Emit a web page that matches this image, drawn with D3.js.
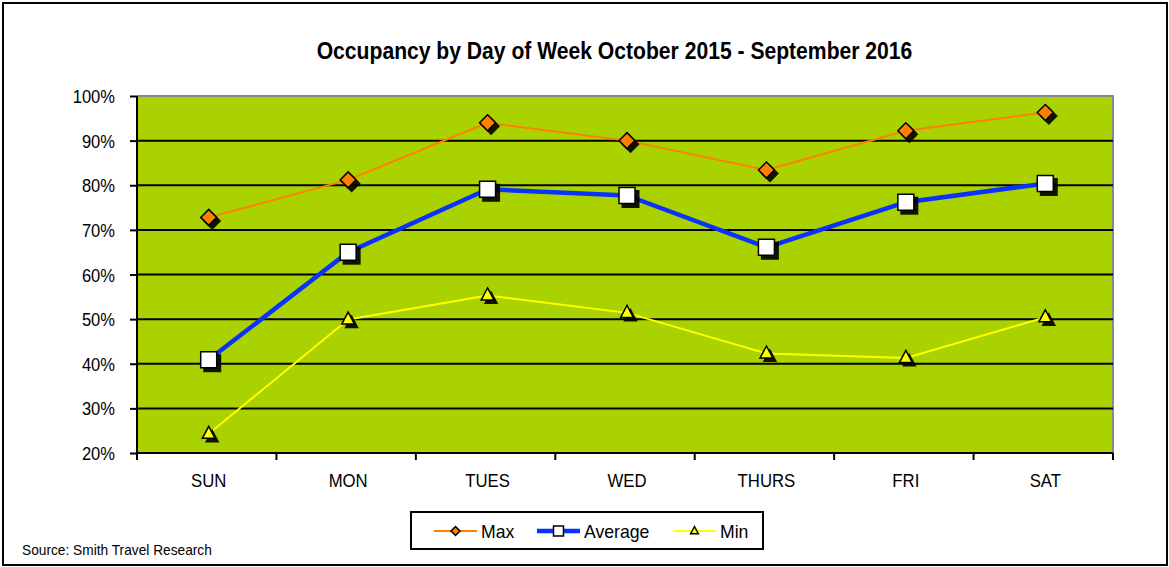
<!DOCTYPE html>
<html>
<head>
<meta charset="utf-8">
<script src="https://cdn.jsdelivr.net/npm/d3@7/dist/d3.min.js"></script>
<style>
  html, body { margin: 0; padding: 0; background: #fff; }
  svg { display: block; font-family: "Liberation Sans", Arial, sans-serif; }
</style>
</head>
<body>
<svg id="chart" width="1169" height="567"></svg>
<script>
// Occupancy by day of week, Oct 2015 - Sep 2016
const days = ["SUN", "MON", "TUES", "WED", "THURS", "FRI", "SAT"];
const maxValues = [72.8, 81.2, 94.0, 90.0, 83.4, 92.2, 96.3];
const avgValues = [40.9, 65.0, 79.1, 77.7, 66.1, 76.2, 80.4];
const minValues = [24.3, 49.9, 55.3, 51.4, 42.3, 41.3, 50.4];
const yTicks = [20, 30, 40, 50, 60, 70, 80, 90, 100];

const svg = d3.select("#chart");
const W = 1169, H = 567;
const plot = { left: 137, right: 1113, top: 96, bottom: 453 };

// place a horizontally condensed label
function label(parent, x, y, txt, size, sx, anchor, weight) {
  return parent.append("text")
    .attr("transform", `translate(${x},${y}) scale(${sx},1)`)
    .attr("text-anchor", anchor || "start")
    .attr("font-size", size)
    .attr("font-weight", weight || "normal")
    .attr("fill", "#000")
    .text(txt);
}

// outer frame
svg.append("rect")
  .attr("x", 3).attr("y", 3).attr("width", W - 5).attr("height", H - 5)
  .attr("fill", "#fff").attr("stroke", "#000").attr("stroke-width", 2);

// title
label(svg, 614.5, 59, "Occupancy by Day of Week October 2015 - September 2016", 24, 0.88, "middle", "bold");

const x = d3.scaleBand().domain(days).range([plot.left, plot.right]);
const y = d3.scaleLinear().domain([20, 100]).range([plot.bottom, plot.top]);
const cx = d => x(d) + x.bandwidth() / 2 + 2;

// plot area background
svg.append("rect")
  .attr("x", plot.left).attr("y", plot.top)
  .attr("width", plot.right - plot.left).attr("height", plot.bottom - plot.top)
  .attr("fill", "#aad200");
// grey frame on top and right of plot area
svg.append("path")
  .attr("d", `M${plot.left},${plot.top}H${plot.right}V${plot.bottom}`)
  .attr("fill", "none").attr("stroke", "#8a8a8a").attr("stroke-width", 2);

// horizontal gridlines
svg.append("g").selectAll("line")
  .data(yTicks.slice(1, -1))
  .join("line")
  .attr("x1", plot.left).attr("x2", plot.right)
  .attr("y1", d => y(d)).attr("y2", d => y(d))
  .attr("stroke", "#000").attr("stroke-width", 2);

// y axis
const yAxis = svg.append("g")
  .attr("transform", `translate(${plot.left},0)`)
  .call(d3.axisLeft(y).tickValues(yTicks).tickFormat(d => d + "%").tickSize(7));
yAxis.select(".domain").attr("stroke", "#000").attr("stroke-width", 2)
  .attr("d", `M0,${plot.top}V${plot.bottom}`);
yAxis.selectAll(".tick line").attr("stroke-width", 2);
yAxis.selectAll(".tick text")
  .attr("x", null).attr("dy", null)
  .attr("transform", "translate(-22,6.5) scale(0.92,1)")
  .attr("font-size", 18).attr("fill", "#000")
  .attr("font-family", "'Liberation Sans', Arial, sans-serif");

// x axis: ticks between categories
const xAxis = svg.append("g")
  .attr("transform", `translate(0,${plot.bottom})`);
xAxis.append("line")
  .attr("x1", plot.left - 1).attr("x2", plot.right)
  .attr("stroke", "#000").attr("stroke-width", 2);
const boundaries = days.map(d => x(d)).concat([x(days[days.length - 1]) + x.bandwidth()]);
xAxis.selectAll("line.tk")
  .data(boundaries)
  .join("line").attr("class", "tk")
  .attr("x1", d => d).attr("x2", d => d)
  .attr("y1", 0).attr("y2", 7)
  .attr("stroke", "#000").attr("stroke-width", 2);
days.forEach(d => label(xAxis, cx(d), 34, d, 18, 0.93, "middle"));

const series = [
  { name: "Max", values: maxValues, color: "#ff7f00", width: 2, shape: "diamond", fill: "#ff7f00", size: 8 },
  { name: "Average", values: avgValues, color: "#0a32ff", width: 4.5, shape: "square", fill: "#ffffff", size: 8 },
  { name: "Min", values: minValues, color: "#ffff00", width: 2, shape: "triangle", fill: "#ffff00", size: 7.5 }
];

function markerPath(shape, s) {
  if (shape === "diamond") return `M0,${-s}L${s},0L0,${s}L${-s},0Z`;
  if (shape === "square") return `M${-s},${-s}H${s}V${s}H${-s}Z`;
  return `M0,${-s}L${s * 0.85},${s * 0.6}H${-s * 0.85}Z`;
}

series.forEach(s => {
  const line = d3.line()
    .x((v, i) => cx(days[i]))
    .y(v => y(v));
  svg.append("path")
    .datum(s.values)
    .attr("d", line)
    .attr("fill", "none")
    .attr("stroke", s.color)
    .attr("stroke-width", s.width)
    .attr("stroke-linejoin", "round");
});

series.forEach(s => {
  const g = svg.append("g");
  // drop shadow
  g.selectAll("path.shadow")
    .data(s.values)
    .join("path").attr("class", "shadow")
    .attr("transform", (v, i) => `translate(${cx(days[i]) + 3.5},${y(v) + 3.5})`)
    .attr("d", markerPath(s.shape, s.size + 1))
    .attr("fill", "#000")
    .attr("opacity", 0.9);
  g.selectAll("path.mark")
    .data(s.values)
    .join("path").attr("class", "mark")
    .attr("transform", (v, i) => `translate(${cx(days[i])},${y(v)})`)
    .attr("d", markerPath(s.shape, s.size))
    .attr("fill", s.fill)
    .attr("stroke", "#000")
    .attr("stroke-width", 1.5);
});

// legend
const legend = svg.append("g");
legend.append("rect")
  .attr("x", 411).attr("y", 512).attr("width", 352).attr("height", 37)
  .attr("fill", "#fff").attr("stroke", "#000").attr("stroke-width", 2);
const legendPos = [434, 537, 673];
series.forEach((s, i) => {
  const lx = legendPos[i];
  const ly = 531;
  legend.append("line")
    .attr("x1", lx).attr("x2", lx + 43).attr("y1", ly).attr("y2", ly)
    .attr("stroke", s.color).attr("stroke-width", s.width);
  legend.append("path")
    .attr("transform", `translate(${lx + 21.5},${ly})`)
    .attr("d", markerPath(s.shape, s.shape === "square" ? 5 : 4.5))
    .attr("fill", s.fill).attr("stroke", "#000").attr("stroke-width", 1.5);
  label(legend, lx + 47, ly + 7, s.name, 18, 0.98, "start");
});

// source note
label(svg, 22, 555, "Source: Smith Travel Research", 14, 0.98, "start");
</script>
</body>
</html>
